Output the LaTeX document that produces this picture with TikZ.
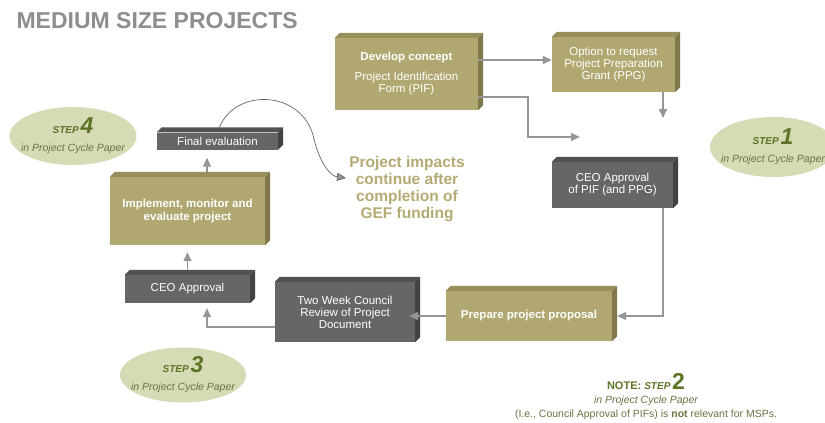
\documentclass[tikz,border=0pt]{standalone}
\usepackage{fontspec}
\setmainfont{Liberation Sans}
\usetikzlibrary{
    arrows.meta,
    positioning,
    shapes.geometric
}
\definecolor{tanfront}{RGB}{177,167,113}
\definecolor{tantop}{RGB}{152,143,92}
\definecolor{tanside}{RGB}{128,120,74}
\definecolor{greyfront}{RGB}{102,102,102}
\definecolor{greytop}{RGB}{82,82,82}
\definecolor{greyside}{RGB}{66,66,66}
\definecolor{arrowgrey}{RGB}{150,150,150}
\definecolor{titlegrey}{RGB}{142,142,142}
\definecolor{stepfill}{RGB}{213,219,181}
\definecolor{stepgreen}{RGB}{92,116,38}
\definecolor{stepolive}{RGB}{104,118,66}
\definecolor{impacttan}{RGB}{180,170,116}
\newcommand{\stepword}{{\fontsize{10}{12}\selectfont\bfseries\itshape STEP}}
\newcommand{\stepnum}[1]{{\fontsize{23}{23}\selectfont\bfseries\itshape #1}}
\tikzset{
    % Boxes
    box/.style={rectangle,inner sep=0pt,text=white,align=center,font=\fontsize{11.5}{12}\selectfont},
    tan box/.style={box,fill=tanfront},
    grey box/.style={box,fill=greyfront},
    %
    % Step ovals and texts
    step oval/.style={ellipse,fill=stepfill,inner xsep=-12pt,inner ysep=0pt,align=center,text=stepolive,font=\fontsize{10.5}{18}\selectfont},
    title text/.style={text=titlegrey,font=\fontsize{23}{26}\selectfont\bfseries},
    impacts text/.style={text=impacttan,align=center,font=\fontsize{15.5}{16.8}\selectfont\bfseries},
    note text/.style={text=stepolive,align=center,inner sep=0pt,font=\fontsize{10.5}{14}\selectfont},
    %
    % Arrows
    arrow tip/.tip={Triangle[length=9pt,width=8pt]},
    arr/.style={-{arrow tip},draw=arrowgrey,line width=1.3pt},
    curve arr/.style={-{arrow tip[fill=arrowgrey]},draw=black!60,line width=0.7pt}
}

\begin{document}
\begin{tikzpicture}[x=1pt,y=-1pt]
    \path[use as bounding box,fill=white] (0,0) rectangle (825,423);
    \node[title text,anchor=base west] (title) at (13,28) {MEDIUM SIZE PROJECTS};

    \node[tan box,minimum width=143,minimum height=72] (dev) at (406.5,74)
        {{\bfseries Develop concept}\\[8pt]Project Identification\\Form (PIF)};
    \node[tan box,minimum width=123,minimum height=55] (opt) at (613.5,64.5)
        {Option to request\\Project Preparation\\Grant (PPG)};
    \node[grey box,minimum width=121,minimum height=46] (ceoa) at (612.5,185)
        {CEO Approval\\of PIF (and PPG)};
    \node[tan box,minimum width=166,minimum height=50] (prep) at (529,316)
        {\bfseries Prepare project proposal};
    \node[grey box,minimum width=140,minimum height=60] (review) at (345,312)
        {Two Week Council\\Review of Project\\Document};
    \node[grey box,minimum width=125,minimum height=28] (ceob) at (187.5,289) {CEO Approval};
    \node[tan box,minimum width=155,minimum height=68,font=\fontsize{11.5}{13}\selectfont\bfseries] (impl) at (187.5,211)
        {Implement, monitor and\\evaluate project};
    \node[grey box,minimum width=121,minimum height=17] (final) at (217.5,141) {Final evaluation};

    \foreach \n/\k in {dev/tan,opt/tan,ceoa/grey,prep/tan,review/grey,ceob/grey,impl/tan,final/grey}{
        \fill[fill=\k top] (\n.north west) -- ++(5,-5) -- ([shift={(5,-5)}]\n.north east) -- (\n.north east) -- cycle;
        \fill[fill=\k side] (\n.north east) -- ++(5,-5) -- ([shift={(5,-5)}]\n.south east) -- (\n.south east) -- cycle;
    }

    \node[impacts text] (impacts) at (407,189) {Project impacts\\continue after\\completion of\\GEF funding};

    \node[step oval,minimum width=127,minimum height=58] (step4) at (73,136)
        {{\color{stepgreen}\stepword\,\stepnum{4}}\\{\itshape in Project Cycle Paper}};
    \node[step oval,minimum width=126,minimum height=60] (step1) at (773,147)
        {{\color{stepgreen}\stepword\,\stepnum{1}}\\{\itshape in Project Cycle Paper}};
    \node[step oval,minimum width=126,minimum height=55] (step3) at (183,375)
        {{\color{stepgreen}\stepword\,\stepnum{3}}\\{\itshape in Project Cycle Paper}};

    \node[note text,anchor=south] (note) at (646,420)
        {{\color{stepgreen}{\fontsize{11}{12}\selectfont\bfseries NOTE: }\stepword\,{\fontsize{23}{23}\selectfont\bfseries 2}}\\
         {\itshape in Project Cycle Paper}\\
         (I.e., Council Approval of PIFs) is {\bfseries not} relevant for MSPs.};

    \coordinate (optend) at (663,118);
    \coordinate (devend) at (580,137);
    \coordinate (impend) at (346,178);

    \draw[arr] (dev.east |- 0,60) -- (opt.west |- 0,60);
    \draw[arr] (opt.south -| 663,0) -- (optend);
    \draw[arr] (dev.east |- 0,97) -- (528,97) |- (devend);
    \draw[arr] (ceoa.south -| 663,0) |- ([xshift=5pt]prep.east);
    \draw[arr,shorten >=-6pt] (prep.west) -- (review.east |- prep.west);
    \draw[arr,shorten >=5pt] (review.west |- 0,327) -| (207,0 |- ceob.south);
    \draw[arr,shorten <=5pt,shorten >=7pt] (ceob.north) -- (impl.south);
    \draw[arr,shorten <=5pt,shorten >=8pt] (207,0 |- impl.north) -- (207,0 |- final.south);
    \draw[curve arr,shorten <=5pt] (final.north) .. controls (235,88) and (300,90) .. (313,135)
        .. controls (319,162) and (330,176) .. (impend);
\end{tikzpicture}
\end{document}
